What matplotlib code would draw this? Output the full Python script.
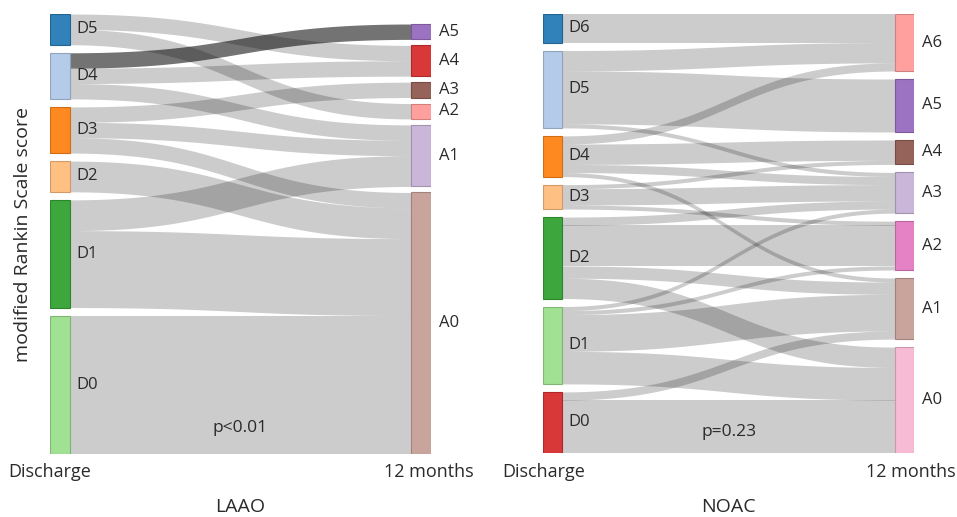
import numpy as np
import matplotlib.pyplot as plt
from matplotlib.patches import Rectangle
from matplotlib.colors import to_rgb

# figure size in pixels
W, H = 957, 517

# LAAO: discharge mRS -> 12 month mRS (number of patients)
laao_left = ['D5', 'D4', 'D3', 'D2', 'D1', 'D0']
laao_right = ['A5', 'A4', 'A3', 'A2', 'A1', 'A0']
laao_left_colors = ['#1f77b4', '#aec7e8', '#ff7f0e', '#ffbb78', '#2ca02c', '#98df8a']
laao_right_colors = ['#9467bd', '#d62728', '#8c564b', '#ff9896', '#c5b0d5', '#c49c94']
laao_src = ['D5', 'D5', 'D4', 'D4', 'D4', 'D3', 'D3', 'D3', 'D2', 'D1', 'D1', 'D0']
laao_tgt = ['A4', 'A2', 'A5', 'A4', 'A1', 'A3', 'A1', 'A0', 'A0', 'A1', 'A0', 'A0']
laao_val = [1, 1, 1, 1, 1, 1, 1, 1, 2, 2, 5, 9]
laao_highlight = [('D4', 'A5')]

# NOAC
noac_left = ['D6', 'D5', 'D4', 'D3', 'D2', 'D1', 'D0']
noac_right = ['A6', 'A5', 'A4', 'A3', 'A2', 'A1', 'A0']
noac_left_colors = ['#1f77b4', '#aec7e8', '#ff7f0e', '#ffbb78', '#2ca02c', '#98df8a', '#d62728']
noac_right_colors = ['#ff9896', '#9467bd', '#8c564b', '#c5b0d5', '#e377c2', '#c49c94', '#f7b6d2']
noac_src = ['D6',
            'D5', 'D5', 'D5',
            'D4', 'D4', 'D4', 'D4',
            'D3', 'D3', 'D3',
            'D2', 'D2', 'D2', 'D2',
            'D1', 'D1', 'D1', 'D1',
            'D0', 'D0']
noac_tgt = ['A6',
            'A6', 'A5', 'A3',
            'A6', 'A4', 'A3', 'A1',
            'A4', 'A3', 'A2',
            'A3', 'A2', 'A1', 'A0',
            'A3', 'A2', 'A1', 'A0',
            'A1', 'A0']
noac_val = [7,
            5, 13, 1,
            2, 5, 2, 1,
            1, 4, 1,
            2, 10, 3, 5,
            1, 1, 9, 8,
            2, 13]

plt.rcParams['font.family'] = ['Open Sans', 'DejaVu Sans']
TXT = '#2a2a2a'

fig = plt.figure(figsize=(W / 100, H / 100), dpi=100)


def darker(c, f=0.8):
    r, g, b = to_rgb(c)
    return (r * f, g * f, b * f)


def bezier(p0, p1, p2, p3, t):
    return (1 - t) ** 3 * p0 + 3 * (1 - t) ** 2 * t * p1 + 3 * (1 - t) * t ** 2 * p2 + t ** 3 * p3


def draw_sankey(box, left, right, lcol, rcol, src, tgt, val, highlight=(),
                pad_l=8, pad_r=8, node_w=19, lab_l=6, lab_r=8):
    # box = (left px, top px, width px, height px) of the node area
    bx, by, bw, bh = box
    ax = fig.add_axes([bx / W, 1 - (by + bh) / H, bw / W, bh / H])
    ax.set_xlim(0, bw)
    ax.set_ylim(bh, 0)
    ax.axis('off')

    flows = list(zip(src, tgt, val))
    ltot = {n: sum(v for s, t, v in flows if s == n) for n in left}
    rtot = {n: sum(v for s, t, v in flows if t == n) for n in right}
    total = sum(val)
    k = min((bh - pad_l * (len(left) - 1)) / total, (bh - pad_r * (len(right) - 1)) / total)

    # stack nodes from top, bottom aligned
    def stack(nodes, tot, pad):
        span = sum(tot[n] for n in nodes) * k + pad * (len(nodes) - 1)
        y = bh - span
        pos = {}
        for n in nodes:
            pos[n] = y
            y += tot[n] * k + pad
        return pos

    lpos = stack(left, ltot, pad_l)
    rpos = stack(right, rtot, pad_r)

    # link offsets: at source sorted by target, at target sorted by source
    y0 = {}
    off = dict(lpos)
    for s, t, v in sorted(flows, key=lambda f: (left.index(f[0]), right.index(f[1]))):
        y0[(s, t)] = off[s]
        off[s] += v * k
    y1 = {}
    off = dict(rpos)
    for s, t, v in sorted(flows, key=lambda f: (right.index(f[1]), left.index(f[0]))):
        y1[(s, t)] = off[t]
        off[t] += v * k

    # links
    xa, xb = node_w, bw - node_w
    xm = (xa + xb) / 2
    tt = np.linspace(0, 1, 120)
    xs = bezier(xa, xm, xm, xb, tt)
    for s, t, v in flows:
        a, b = y0[(s, t)], y1[(s, t)]
        top = bezier(a, a, b, b, tt)
        alpha = 0.55 if (s, t) in highlight else 0.2
        ax.fill_between(xs, top, top + v * k, color='black', alpha=alpha, lw=0)

    # nodes and labels
    for n, c in zip(left, lcol):
        h = ltot[n] * k
        ax.add_patch(Rectangle((0, lpos[n]), node_w, h, facecolor=c, alpha=0.92,
                               edgecolor=darker(c), lw=0.8))
        ax.text(node_w + lab_l, lpos[n] + h / 2, n, ha='left', va='center', fontsize=12, color=TXT)
    for n, c in zip(right, rcol):
        h = rtot[n] * k
        ax.add_patch(Rectangle((bw - node_w, rpos[n]), node_w, h, facecolor=c, alpha=0.92,
                               edgecolor=darker(c), lw=0.8))
        ax.text(bw + lab_r, rpos[n] + h / 2, n, ha='left', va='center', fontsize=12, color=TXT)
    return ax


draw_sankey((50, 14, 381, 440), laao_left, laao_right, laao_left_colors, laao_right_colors,
            laao_src, laao_tgt, laao_val, highlight=laao_highlight, pad_l=8, pad_r=6, node_w=20)
draw_sankey((543, 14, 371, 439), noac_left, noac_right, noac_left_colors, noac_right_colors,
            noac_src, noac_tgt, noac_val, pad_l=8, pad_r=8, node_w=19, lab_l=6, lab_r=8)


def ftext(x, y, s, **kw):
    fig.text(x / W, 1 - y / H, s, color=TXT, **kw)


# axis style texts
ftext(8, 472, 'Discharge', ha='left', va='center', fontsize=13)
ftext(474, 472, '12 months', ha='right', va='center', fontsize=13)
ftext(502, 472, 'Discharge', ha='left', va='center', fontsize=13)
ftext(956, 472, '12 months', ha='right', va='center', fontsize=13)
ftext(240, 507, 'LAAO', ha='center', va='center', fontsize=14)
ftext(728, 507, 'NOAC', ha='center', va='center', fontsize=14)
ftext(240, 428, 'p<0.01', ha='center', va='center', fontsize=12.5)
ftext(729, 432, 'p=0.23', ha='center', va='center', fontsize=12.5)
ftext(23, 234, 'modified Rankin Scale score', ha='center', va='center', fontsize=14, rotation=90)

fig.savefig('out.png', dpi=100)
